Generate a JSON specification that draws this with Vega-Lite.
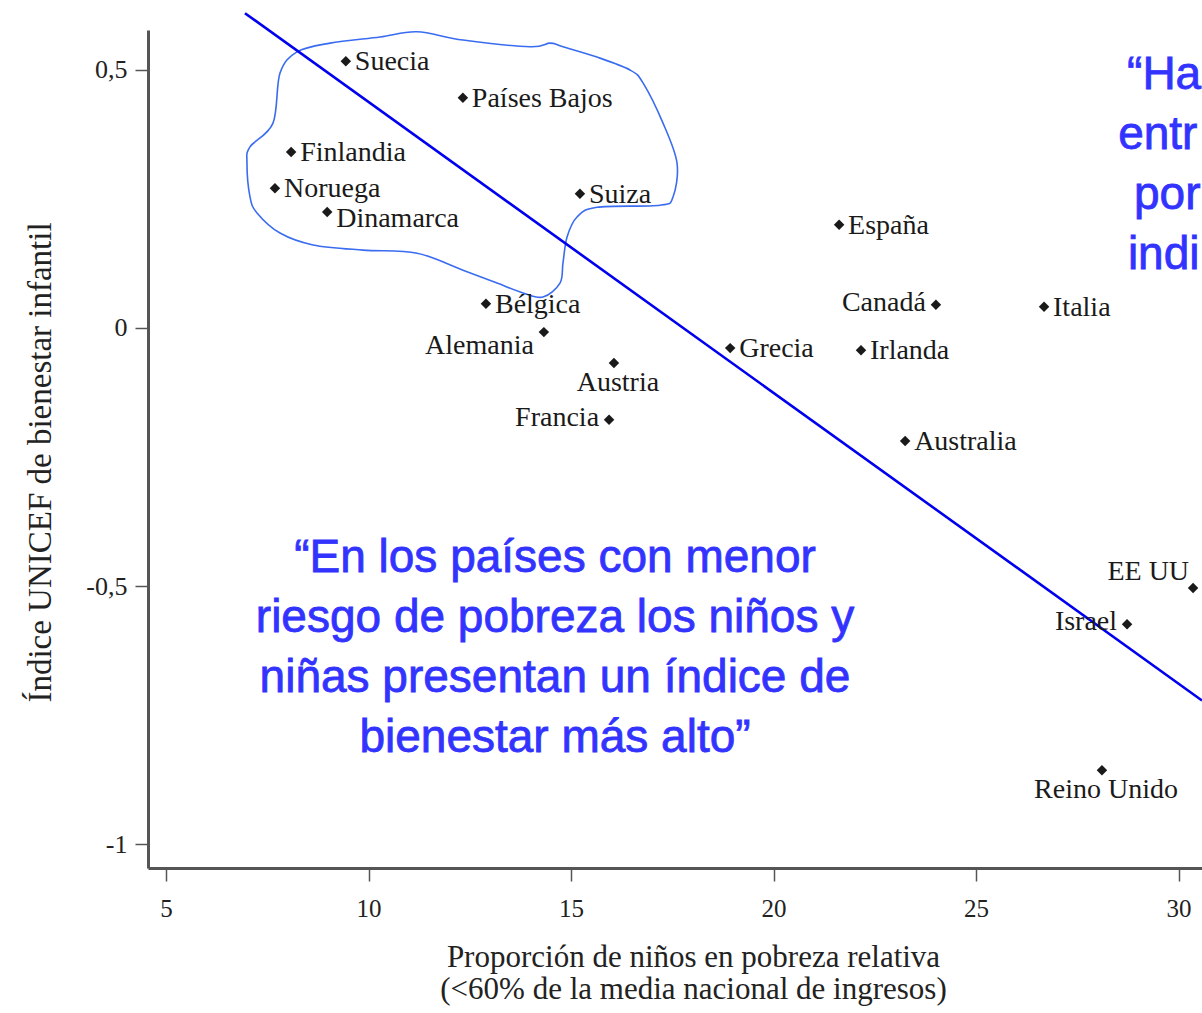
{
  "$schema": "https://vega.github.io/schema/vega-lite/v6.json",
  "autosize": {"type": "none"},
  "width": 1054,
  "height": 838,
  "padding": {"left": 148, "top": 30, "right": 0, "bottom": 145},
  "background": "white",
  "config": {"view": {"stroke": null}},
  "datasets": {
    "paises": [
      {"pais": "Suecia", "pobreza": 9.44, "bienestar": 0.517},
      {"pais": "Países Bajos", "pobreza": 12.33, "bienestar": 0.446},
      {"pais": "Finlandia", "pobreza": 8.09, "bienestar": 0.341},
      {"pais": "Noruega", "pobreza": 7.69, "bienestar": 0.271},
      {"pais": "Dinamarca", "pobreza": 8.98, "bienestar": 0.225},
      {"pais": "Suiza", "pobreza": 15.22, "bienestar": 0.26},
      {"pais": "España", "pobreza": 21.62, "bienestar": 0.2},
      {"pais": "Bélgica", "pobreza": 12.9, "bienestar": 0.047},
      {"pais": "Alemania", "pobreza": 14.33, "bienestar": -0.008},
      {"pais": "Canadá", "pobreza": 24.01, "bienestar": 0.045},
      {"pais": "Italia", "pobreza": 26.68, "bienestar": 0.041},
      {"pais": "Grecia", "pobreza": 18.93, "bienestar": -0.039},
      {"pais": "Irlanda", "pobreza": 22.16, "bienestar": -0.043},
      {"pais": "Austria", "pobreza": 16.06, "bienestar": -0.068},
      {"pais": "Francia", "pobreza": 15.94, "bienestar": -0.178},
      {"pais": "Australia", "pobreza": 23.25, "bienestar": -0.219},
      {"pais": "EE UU", "pobreza": 30.36, "bienestar": -0.504},
      {"pais": "Israel", "pobreza": 28.73, "bienestar": -0.574},
      {"pais": "Reino Unido", "pobreza": 28.11, "bienestar": -0.857}
    ],
    "tendencia": [
      {"pobreza": 6.95, "bienestar": 0.61},
      {"pobreza": 30.58, "bienestar": -0.722}
    ],
    "contorno": [
      {"i": 1, "pobreza": 7.642, "bienestar": 0.397},
      {"i": 2, "pobreza": 7.815, "bienestar": 0.494},
      {"i": 3, "pobreza": 8.235, "bienestar": 0.535},
      {"i": 4, "pobreza": 9.049, "bienestar": 0.552},
      {"i": 5, "pobreza": 10.284, "bienestar": 0.564},
      {"i": 6, "pobreza": 11.198, "bienestar": 0.574},
      {"i": 7, "pobreza": 12.333, "bienestar": 0.558},
      {"i": 8, "pobreza": 13.988, "bienestar": 0.545},
      {"i": 9, "pobreza": 14.481, "bienestar": 0.552},
      {"i": 10, "pobreza": 14.802, "bienestar": 0.545},
      {"i": 11, "pobreza": 15.642, "bienestar": 0.525},
      {"i": 12, "pobreza": 16.457, "bienestar": 0.5},
      {"i": 13, "pobreza": 16.778, "bienestar": 0.475},
      {"i": 14, "pobreza": 17.272, "bienestar": 0.397},
      {"i": 15, "pobreza": 17.617, "bienestar": 0.32},
      {"i": 16, "pobreza": 17.519, "bienestar": 0.254},
      {"i": 17, "pobreza": 17.198, "bienestar": 0.238},
      {"i": 18, "pobreza": 15.642, "bienestar": 0.234},
      {"i": 19, "pobreza": 15.148, "bienestar": 0.215},
      {"i": 20, "pobreza": 14.901, "bienestar": 0.176},
      {"i": 21, "pobreza": 14.802, "bienestar": 0.126},
      {"i": 22, "pobreza": 14.728, "bienestar": 0.087},
      {"i": 23, "pobreza": 14.309, "bienestar": 0.06},
      {"i": 24, "pobreza": 13.815, "bienestar": 0.068},
      {"i": 25, "pobreza": 13.173, "bienestar": 0.087},
      {"i": 26, "pobreza": 12.333, "bienestar": 0.112},
      {"i": 27, "pobreza": 11.198, "bienestar": 0.145},
      {"i": 28, "pobreza": 9.864, "bienestar": 0.151},
      {"i": 29, "pobreza": 8.63, "bienestar": 0.161},
      {"i": 30, "pobreza": 7.815, "bienestar": 0.184},
      {"i": 31, "pobreza": 7.247, "bienestar": 0.223},
      {"i": 32, "pobreza": 7.074, "bienestar": 0.254},
      {"i": 33, "pobreza": 6.999, "bienestar": 0.32},
      {"i": 34, "pobreza": 7.074, "bienestar": 0.351}
    ],
    "nota_izq": [
      {"texto": "“En los países con menor\nriesgo de pobreza los niños y\nniñas presentan un índice de\nbienestar más alto”", "pobreza": 14.605, "bienestar": -0.473}
    ],
    "nota_der": [
      {"texto": "“Ha", "pobreza": 28.73, "bienestar": 0.463},
      {"texto": "entr", "pobreza": 28.51, "bienestar": 0.347},
      {"texto": "por", "pobreza": 28.9, "bienestar": 0.231},
      {"texto": "indi", "pobreza": 28.75, "bienestar": 0.114}
    ]
  },
  "encoding": {
    "x": {
      "field": "pobreza", "type": "quantitative",
      "scale": {"domain": [4.5556, 30.58], "nice": false, "zero": false},
      "axis": {
        "values": [5, 10, 15, 20, 25, 30],
        "grid": false,
        "domainColor": "#555555", "domainWidth": 3,
        "tickColor": "#555555", "tickWidth": 1.5, "tickSize": 13,
        "labelFont": "Liberation Serif", "labelFontSize": 25, "labelColor": "#222222",
        "labelPadding": 15,
        "title": ["Proporción de niños en pobreza relativa", "(<60% de la media nacional de ingresos)"],
        "titleFont": "Liberation Serif", "titleFontSize": 31, "titleFontWeight": "normal", "titleColor": "#222222",
        "titleX": 545, "titleY": 98, "titleAlign": "center", "titleBaseline": "alphabetic", "titleLineHeight": 32, "titleAnchor": null
      }
    },
    "y": {
      "field": "bienestar", "type": "quantitative",
      "scale": {"domain": [-1.0465, 0.5775], "nice": false, "zero": false},
      "axis": {
        "values": [0.5, 0, -0.5, -1],
        "labelExpr": "datum.value == 0.5 ? '0,5' : datum.value == 0 ? '0' : datum.value == -0.5 ? '-0,5' : '-1'",
        "grid": false,
        "domainColor": "#555555", "domainWidth": 3,
        "tickColor": "#555555", "tickWidth": 1.5, "tickSize": 13,
        "labelFont": "Liberation Serif", "labelFontSize": 26, "labelColor": "#222222",
        "labelPadding": 8,
        "title": "Índice UNICEF de bienestar infantil",
        "titleFont": "Liberation Serif", "titleFontSize": 33, "titleFontWeight": "normal", "titleColor": "#222222",
        "titleX": -108, "titleY": 432, "titleAngle": 270, "titleAlign": "center", "titleBaseline": "middle"
      }
    }
  },
  "layer": [
    {
      "data": {"name": "contorno"},
      "mark": {"type": "line", "interpolate": "cardinal-closed", "stroke": "#3a6cf0", "strokeWidth": 1.6, "clip": false},
      "encoding": {"order": {"field": "i", "type": "quantitative"}}
    },
    {
      "data": {"name": "tendencia"},
      "mark": {"type": "line", "stroke": "#0000ee", "strokeWidth": 2.6, "clip": false},
      "encoding": {}
    },
    {
      "data": {"name": "paises"},
      "mark": {"type": "point", "shape": "diamond", "filled": true, "color": "#1a1a1a", "size": 110, "opacity": 1}
    },
    {
      "data": {"name": "paises"},
      "transform": [{"filter": {"field": "pais", "oneOf": ["Suecia", "Países Bajos", "Finlandia", "Noruega", "Suiza", "España", "Bélgica", "Italia", "Grecia", "Irlanda", "Australia"]}}],
      "mark": {"type": "text", "align": "left", "baseline": "middle", "dx": 9, "dy": 1, "font": "Liberation Serif", "fontSize": 28, "color": "#1a1a1a"},
      "encoding": {"text": {"field": "pais"}}
    },
    {
      "data": {"name": "paises"},
      "transform": [{"filter": {"field": "pais", "equal": "Dinamarca"}}],
      "mark": {"type": "text", "align": "left", "baseline": "middle", "dx": 9, "dy": 7, "font": "Liberation Serif", "fontSize": 28, "color": "#1a1a1a"},
      "encoding": {"text": {"field": "pais"}}
    },
    {
      "data": {"name": "paises"},
      "transform": [{"filter": {"field": "pais", "oneOf": ["Canadá", "Francia", "Israel"]}}],
      "mark": {"type": "text", "align": "right", "baseline": "middle", "dx": -10, "dy": -2, "font": "Liberation Serif", "fontSize": 28, "color": "#1a1a1a"},
      "encoding": {"text": {"field": "pais"}}
    },
    {
      "data": {"name": "paises"},
      "transform": [{"filter": {"field": "pais", "equal": "Alemania"}}],
      "mark": {"type": "text", "align": "right", "baseline": "middle", "dx": -10, "dy": 14, "font": "Liberation Serif", "fontSize": 28, "color": "#1a1a1a"},
      "encoding": {"text": {"field": "pais"}}
    },
    {
      "data": {"name": "paises"},
      "transform": [{"filter": {"field": "pais", "oneOf": ["Austria", "Reino Unido"]}}],
      "mark": {"type": "text", "align": "center", "baseline": "middle", "dx": 4, "dy": 20, "font": "Liberation Serif", "fontSize": 28, "color": "#1a1a1a"},
      "encoding": {"text": {"field": "pais"}}
    },
    {
      "data": {"name": "paises"},
      "transform": [{"filter": {"field": "pais", "equal": "EE UU"}}],
      "mark": {"type": "text", "align": "right", "baseline": "middle", "dx": -4, "dy": -16, "font": "Liberation Serif", "fontSize": 28, "color": "#1a1a1a"},
      "encoding": {"text": {"field": "pais"}}
    },
    {
      "data": {"name": "nota_izq"},
      "mark": {"type": "text", "align": "center", "baseline": "alphabetic", "lineBreak": "\n", "lineHeight": 60, "font": "Liberation Sans", "fontSize": 46, "color": "#3333ff", "stroke": "#3333ff", "strokeWidth": 0.8, "clip": false},
      "encoding": {"text": {"field": "texto"}}
    },
    {
      "data": {"name": "nota_der"},
      "mark": {"type": "text", "align": "left", "baseline": "alphabetic", "font": "Liberation Sans", "fontSize": 46, "color": "#3333ff", "stroke": "#3333ff", "strokeWidth": 0.8, "clip": false},
      "encoding": {"text": {"field": "texto"}}
    }
  ]
}
